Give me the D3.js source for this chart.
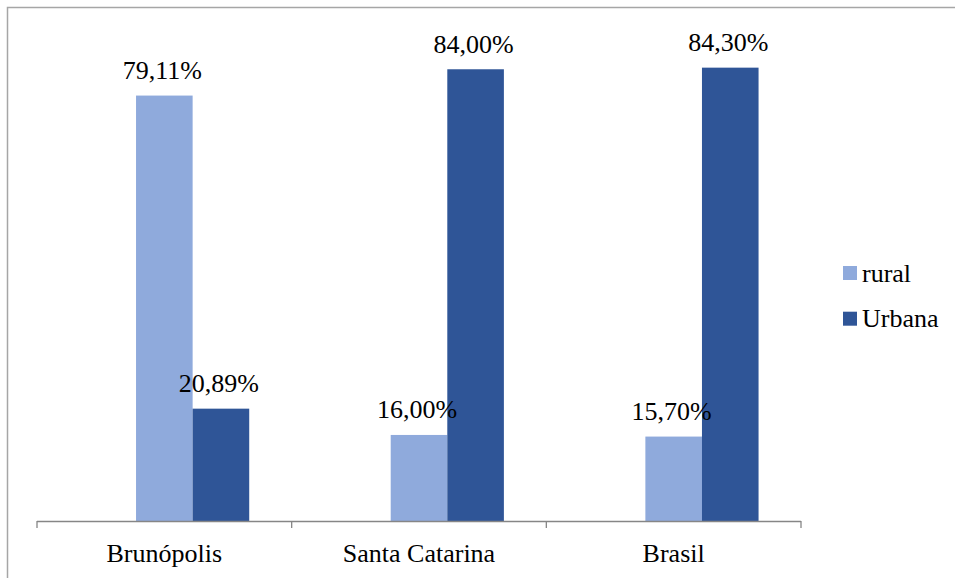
<!DOCTYPE html>
<html><head><meta charset="utf-8">
<script src="https://cdn.jsdelivr.net/npm/d3@7"></script>
</head><body style="margin:0">
<svg id="chart" width="955" height="578"></svg>
<script>
const categories = ["Brunópolis", "Santa Catarina", "Brasil"];
const seriesNames = ["rural", "Urbana"];
const rural = [79.11, 16.00, 15.70];
const urbana = [20.89, 84.00, 84.30];
const labelsRural = ["79,11%", "16,00%", "15,70%"];
const labelsUrbana = ["20,89%", "84,00%", "84,30%"];
const colors = ["#8faadc", "#2f5597"];

const svg = d3.select("#chart");
function styleText(sel) {
  return sel.style("font-family", '"Liberation Serif"').attr("font-size", 26).attr("fill", "#000");
}

svg.append("rect").attr("x", 7.5).attr("y", 7.5).attr("width", 1000).attr("height", 1000)
  .attr("fill", "none").attr("stroke", "#a6a6a6").attr("stroke-width", 1.5);

const x0 = 37, x1 = 801, yBase = 521;
const x = d3.scaleBand().domain(categories).range([x0, x1]).paddingInner(0).paddingOuter(0);
// three slots per category (first slot empty, as in the original), gap 150%
const slots = ["_empty", ...seriesNames];
const xs = d3.scaleBand().domain(slots).range([0, x.bandwidth()]).paddingInner(0).paddingOuter(0.75);
const y = d3.scaleLinear().domain([0, 90]).range([yBase, 37]);

const series = [rural, urbana];
const labels = [labelsRural, labelsUrbana];

seriesNames.forEach((s, si) => {
  svg.append("g").selectAll("rect").data(categories).join("rect")
    .attr("x", c => x(c) + xs(s))
    .attr("width", xs.bandwidth())
    .attr("y", (c, i) => y(series[si][i]))
    .attr("height", (c, i) => yBase - y(series[si][i]))
    .attr("fill", colors[si]);
});
seriesNames.forEach((s, si) => {
  svg.append("g").selectAll("text").data(categories).join("text")
    .attr("x", c => x(c) + xs(s) + xs.bandwidth() / 2 - 2)
    .attr("y", (c, i) => y(series[si][i]) - 16.5)
    .attr("text-anchor", "middle")
    .call(styleText)
    .text((c, i) => labels[si][i]);
});

// x axis
const ax = svg.append("g");
ax.append("line").attr("x1", x0).attr("x2", x1).attr("y1", yBase + 0.5).attr("y2", yBase + 0.5)
  .attr("stroke", "#868686").attr("stroke-width", 1.3);
const tickPos = [x0, ...categories.map(c => x(c) + x.bandwidth())];
ax.selectAll("line.tick").data(tickPos).join("line").attr("class", "tick")
  .attr("x1", d => d).attr("x2", d => d).attr("y1", yBase).attr("y2", yBase + 7)
  .attr("stroke", "#868686").attr("stroke-width", 1.3);
ax.selectAll("text").data(categories).join("text")
  .attr("x", c => x(c) + x.bandwidth() / 2)
  .attr("y", 562)
  .attr("text-anchor", "middle")
  .call(styleText)
  .text(c => c);

// legend
const lg = svg.append("g");
seriesNames.forEach((s, i) => {
  lg.append("rect").attr("x", 843).attr("y", 266 + i * 45.7).attr("width", 14).attr("height", 14).attr("fill", colors[i]);
  lg.append("text").attr("x", 862).attr("y", 281.5 + i * 45.7)
    .call(styleText).text(s);
});
</script>
</body></html>
